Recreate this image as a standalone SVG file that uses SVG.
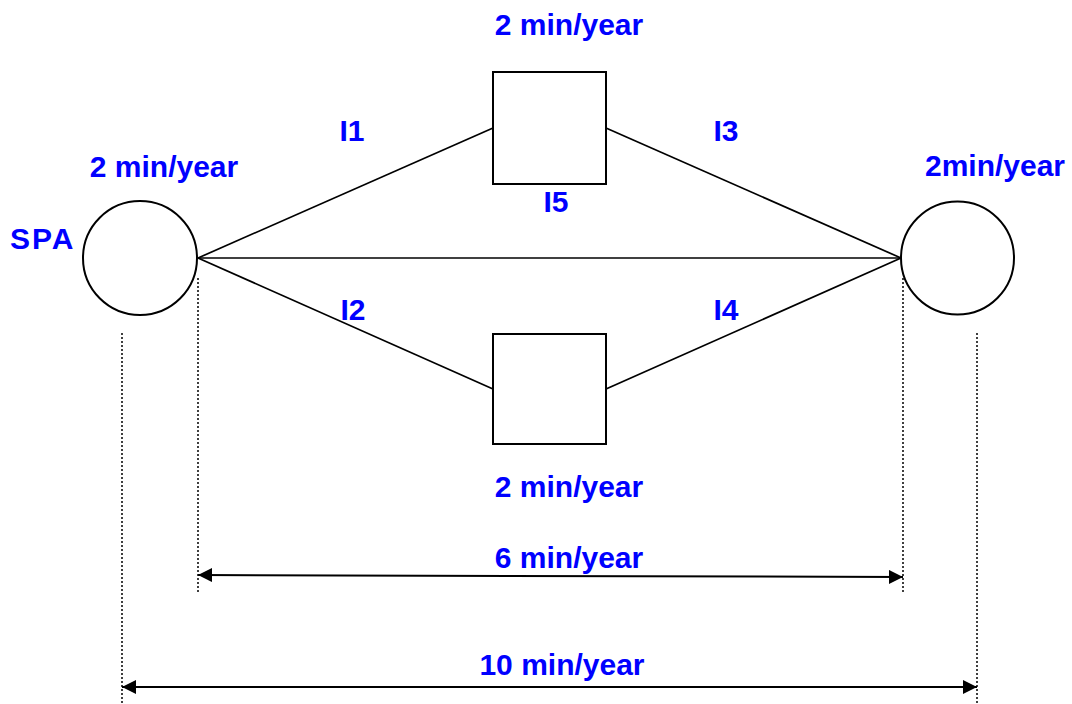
<svg xmlns="http://www.w3.org/2000/svg" width="1072" height="704" viewBox="0 0 1072 704">
<style>
.lbl{font-family:"Liberation Sans",Arial,sans-serif;font-weight:bold;font-size:30px;fill:#0000FF}
.shape{fill:#fff;stroke:#000;stroke-width:2}
.edge{stroke:#000;stroke-width:1.7;fill:none}
.dot{stroke:#000;stroke-width:1.5;stroke-dasharray:2,2;fill:none}
.dim{stroke:#000;stroke-width:2;fill:none}
</style>
<defs>
<marker id="ah" viewBox="0 0 10 10" refX="10" refY="5" markerWidth="7" markerHeight="7" orient="auto-start-reverse" markerUnits="strokeWidth">
<path d="M0,0 L10,5 L0,10 z" fill="#000"/>
</marker>
</defs>
<rect width="1072" height="704" fill="#fff"/>
<g id="connectors">
<line class="edge" x1="198" y1="258" x2="493" y2="128"/>
<line class="edge" x1="606" y1="128" x2="901" y2="258"/>
<line class="edge" x1="198" y1="258" x2="901" y2="258"/>
<line class="edge" x1="198" y1="258" x2="493" y2="389"/>
<line class="edge" x1="606" y1="389" x2="901" y2="258"/>
</g>
<g id="node-spa">
<circle class="shape" cx="140" cy="258" r="57"/>
<text class="lbl" x="10" y="249" letter-spacing="2">SPA</text>
<text class="lbl" x="164" y="177" text-anchor="middle">2 min/year</text>
</g>
<g id="node-top">
<rect class="shape" x="493" y="72" width="113" height="112"/>
<text class="lbl" x="569" y="35" text-anchor="middle">2 min/year</text>
</g>
<g id="node-bottom">
<rect class="shape" x="493" y="334" width="113" height="110"/>
<text class="lbl" x="569" y="497" text-anchor="middle">2 min/year</text>
</g>
<g id="node-right">
<circle class="shape" cx="957.5" cy="258" r="56.5"/>
<text class="lbl" x="995" y="176" text-anchor="middle">2min/year</text>
</g>
<g id="edge-labels">
<text class="lbl" x="352" y="141" text-anchor="middle">I1</text>
<text class="lbl" x="726" y="141" text-anchor="middle">I3</text>
<text class="lbl" x="556" y="212" text-anchor="middle">I5</text>
<text class="lbl" x="353" y="320" text-anchor="middle">I2</text>
<text class="lbl" x="726" y="320" text-anchor="middle">I4</text>
</g>
<g id="dimensions">
<line class="dot" x1="198" y1="278" x2="198" y2="592"/>
<line class="dot" x1="903" y1="278" x2="903" y2="592"/>
<line class="dot" x1="122" y1="333" x2="122" y2="704"/>
<line class="dot" x1="977" y1="333" x2="977" y2="704"/>
<line class="dim" x1="198" y1="575" x2="903" y2="577" marker-start="url(#ah)" marker-end="url(#ah)"/>
<line class="dim" x1="122" y1="687" x2="977" y2="687" marker-start="url(#ah)" marker-end="url(#ah)"/>
<text class="lbl" x="569" y="568" text-anchor="middle">6 min/year</text>
<text class="lbl" x="562" y="675" text-anchor="middle">10 min/year</text>
</g>
</svg>
